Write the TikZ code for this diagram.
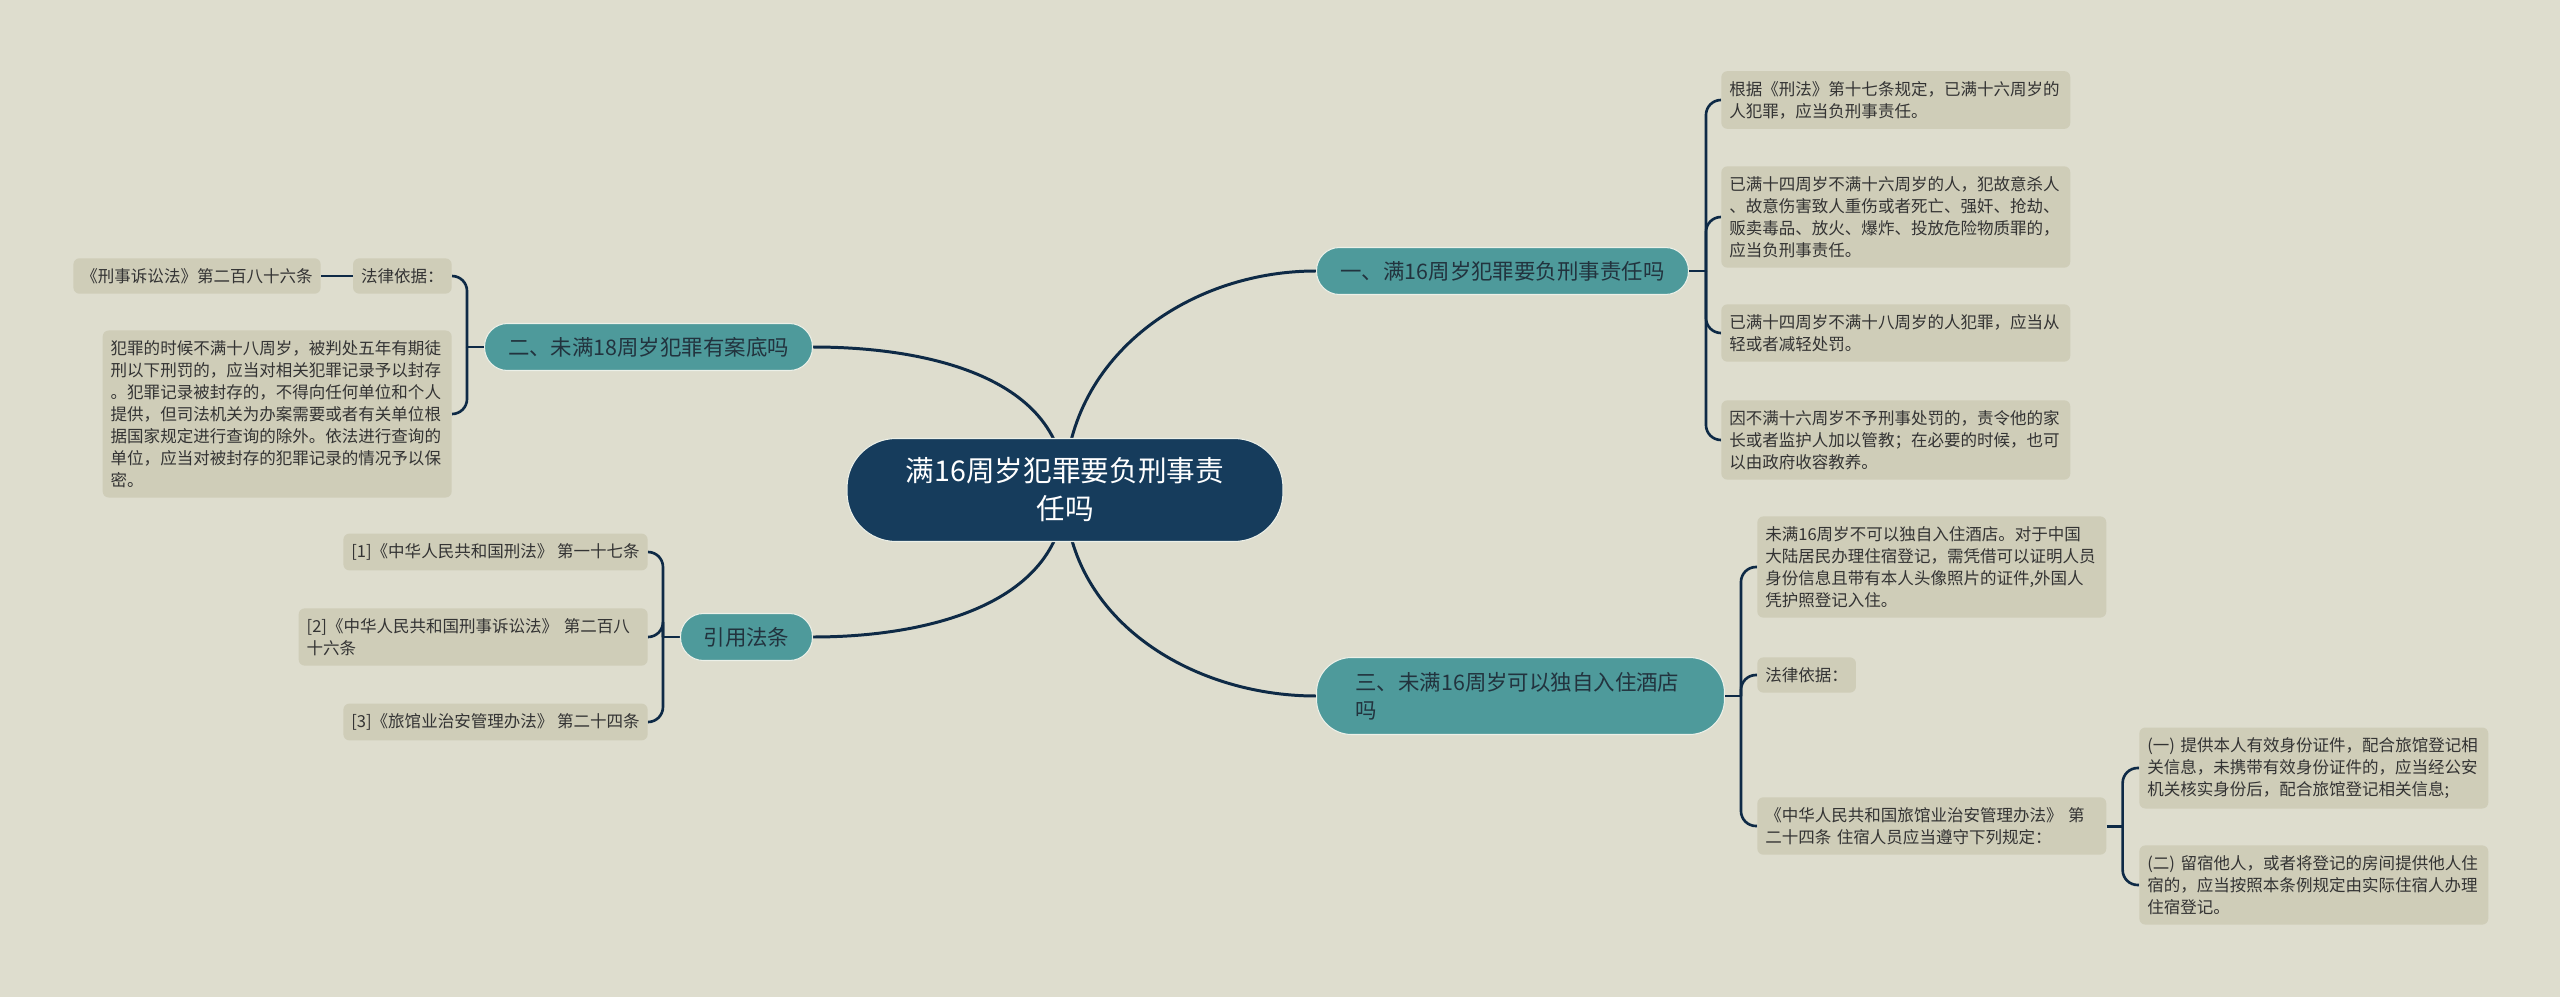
\documentclass[tikz,border=0pt]{standalone}
\usepackage{fontspec}
\setmainfont{Noto Sans CJK SC}
\usepackage{tikz}

\definecolor{paper}{RGB}{222,221,206}
\definecolor{leafc}{RGB}{207,205,184}
\definecolor{tealc}{RGB}{78,154,155}
\definecolor{rootc}{RGB}{22,60,92}
\definecolor{linec}{RGB}{14,42,70}
\definecolor{inkc}{RGB}{51,51,51}
\definecolor{branchink}{RGB}{34,51,62}
\definecolor{rimc}{RGB}{236,240,232}

\newcommand{\leaffont}{\fontsize{9.4pt}{12.5pt}\selectfont}
\newcommand{\branchfont}{\fontsize{12.2pt}{15.9pt}\selectfont}
\newcommand{\rootfont}{\fontsize{16.3pt}{21.6pt}\selectfont}

\pgfdeclarelayer{back}
\pgfsetlayers{back,main}

\begin{document}
\begin{tikzpicture}[x=0.02cm,y=-0.02cm,
    leaf/.style={fill=leafc,text=inkc,rounded corners=0.12cm,inner xsep=0.16cm,
                 inner ysep=0.2cm,align=left,font=\leaffont},
    wide/.style={leaf,text width=6.66cm},
    branch/.style={fill=tealc,draw=rimc,line width=0.6pt,text=branchink,
                   font=\branchfont,rounded corners=0.46cm,minimum height=0.94cm},
    link/.style={draw=linec,line width=1.7pt},
    bracket/.style={draw=linec,line width=1.5pt,rounded corners=0.3cm}]
    \useasboundingbox (0,0) rectangle (2560,997);

    % Root
    \node[fill=rootc,draw=rimc,line width=0.6pt,text=white,font=\rootfont,align=center,
          rounded corners=0.98cm,minimum width=8.72cm,minimum height=2.06cm]
          (root) at (1065,490) {满16周岁犯罪要负刑事责\\任吗};

    % Branch one
    \node[branch,minimum width=7.44cm,anchor=west] (b1) at (1316,271) {一、满16周岁犯罪要负刑事责任吗};
    \node[wide,anchor=west] (a1) at (1721,100) {根据《刑法》第十七条规定，已满十六周岁的\\人犯罪，应当负刑事责任。};
    \node[wide,anchor=west] (a2) at (1721,217) {已满十四周岁不满十六周岁的人，犯故意杀人\\、故意伤害致人重伤或者死亡、强奸、抢劫、\\贩卖毒品、放火、爆炸、投放危险物质罪的，\\应当负刑事责任。};
    \node[wide,anchor=west] (a3) at (1721,333) {已满十四周岁不满十八周岁的人犯罪，应当从\\轻或者减轻处罚。};
    \node[wide,anchor=west] (a4) at (1721,440) {因不满十六周岁不予刑事处罚的，责令他的家\\长或者监护人加以管教；在必要的时候，也可\\以由政府收容教养。};

    % Branch two
    \node[branch,minimum width=6.56cm,anchor=east] (b2) at (813,347) {二、未满18周岁犯罪有案底吗};
    \node[leaf,anchor=east] (law2) at (452,276) {法律依据：};
    \node[leaf,anchor=east] (ref2) at (321,276) {《刑事诉讼法》第二百八十六条};
    \node[wide,anchor=east] (txt2) at (452,414) {犯罪的时候不满十八周岁，被判处五年有期徒\\刑以下刑罚的，应当对相关犯罪记录予以封存\\。犯罪记录被封存的，不得向任何单位和个人\\提供，但司法机关为办案需要或者有关单位根\\据国家规定进行查询的除外。依法进行查询的\\单位，应当对被封存的犯罪记录的情况予以保\\密。};

    % Branch three
    \node[branch,minimum width=2.64cm,anchor=east] (b3) at (813,637) {引用法条};
    \node[leaf,anchor=east] (c1) at (648,552) {[1]《中华人民共和国刑法》 第一十七条};
    \node[wide,anchor=east] (c2) at (648,637) {[2]《中华人民共和国刑事诉讼法》 第二百八\\十六条};
    \node[leaf,anchor=east] (c3) at (648,722) {[3]《旅馆业治安管理办法》 第二十四条};

    % Branch four
    \node[branch,anchor=west,align=left,text width=6.6cm,inner xsep=0.78cm,
          minimum height=1.54cm,rounded corners=0.7cm] (b4) at (1316,696) {三、未满16周岁可以独自入住酒店\\吗};
    \node[wide,anchor=west] (e1) at (1757,567) {未满16周岁不可以独自入住酒店。对于中国\\大陆居民办理住宿登记，需凭借可以证明人员\\身份信息且带有本人头像照片的证件,外国人\\凭护照登记入住。};
    \node[leaf,anchor=west] (e2) at (1757,675) {法律依据：};
    \node[wide,anchor=west] (e3) at (1757,826) {《中华人民共和国旅馆业治安管理办法》 第\\二十四条 住宿人员应当遵守下列规定：};
    \node[wide,anchor=west] (g1) at (2139,768) {(一) 提供本人有效身份证件，配合旅馆登记相\\关信息，未携带有效身份证件的，应当经公安\\机关核实身份后，配合旅馆登记相关信息;};
    \node[wide,anchor=west] (g2) at (2139,885) {(二) 留宿他人，或者将登记的房间提供他人住\\宿的，应当按照本条例规定由实际住宿人办理\\住宿登记。};

    \begin{pgfonlayer}{back}
        \fill[paper] (0,0) rectangle (2560,997);

        % Root links
        \draw[link] (root.center) to[out=90,in=180] (b1.west);
        \draw[link] (root.center) to[out=90,in=0] (b2.east);
        \draw[link] (root.center) to[out=-90,in=0] (b3.east);
        \draw[link] (root.center) to[out=-90,in=180] (b4.west);

        % Brackets
        \draw[link] (b1.east) -- ++(17,0) coordinate (j1);
        \foreach \n in {a1,a2,a3,a4}
            \draw[bracket] (j1) |- (\n.west);
        \draw[link] (b2.west) -- ++(-17,0) coordinate (j2);
        \foreach \n in {law2,txt2}
            \draw[bracket] (j2) |- (\n.east);
        \draw[link] (law2.west) -- (ref2.east);
        \draw[link] (b3.west) -- ++(-17,0) coordinate (j3);
        \foreach \n in {c1,c2,c3}
            \draw[bracket] (j3) |- (\n.east);
        \draw[link] (b4.east) -- ++(16,0) coordinate (j4);
        \foreach \n in {e1,e2,e3}
            \draw[bracket] (j4) |- (\n.west);
        \draw[link] (e3.east) -- ++(16,0) coordinate (j5);
        \foreach \n in {g1,g2}
            \draw[bracket] (j5) |- (\n.west);
    \end{pgfonlayer}
\end{tikzpicture}
\end{document}
